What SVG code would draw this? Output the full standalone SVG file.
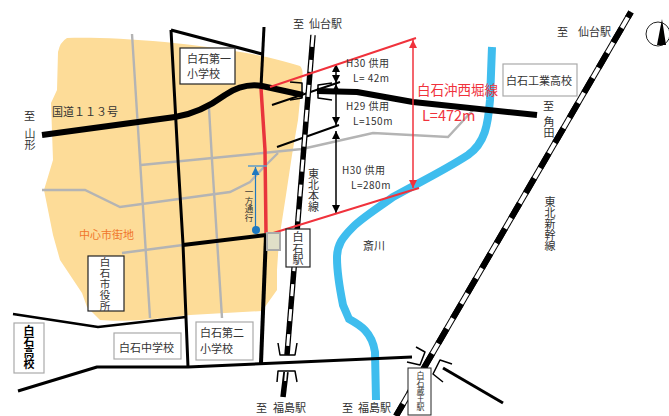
<svg xmlns="http://www.w3.org/2000/svg" width="669" height="416" viewBox="0 0 669 416">
<style>
text{font-family:"Noto Sans CJK JP","Noto Sans",sans-serif;font-size:11px;fill:#333}
.v{writing-mode:vertical-rl;text-orientation:upright}
.s{font-size:10px;letter-spacing:.5px}
.b{fill:#fff;stroke:#222;stroke-width:1.2}
.g{fill:#fff;stroke:#aaa;stroke-width:1.2}
.r{fill:none;stroke:#000;stroke-linecap:butt;stroke-linejoin:round}
.gr{fill:none;stroke:#b4b4b4;stroke-width:2.4}
</style>
<defs>
<marker id="ab" markerWidth="9" markerHeight="8" refX="8" refY="4" orient="auto-start-reverse" markerUnits="userSpaceOnUse"><path d="M0,0L8,4L0,8Z" fill="#000"/></marker>
<marker id="ar" markerWidth="9" markerHeight="8" refX="8" refY="4" orient="auto-start-reverse" markerUnits="userSpaceOnUse"><path d="M0,0L8,4L0,8Z" fill="#f0323c"/></marker>
<marker id="abl" markerWidth="9" markerHeight="8" refX="8" refY="4" orient="auto" markerUnits="userSpaceOnUse"><path d="M0,0L8,4L0,8Z" fill="#1e78c0"/></marker>
</defs>
<g id="area"><path d="M67,38C120,36 240,46 300,66Q304,70 302,80L298,120L292,155L286,195L279,240L277,270L277,290L262,311L190,315C150,320 120,322 100,320L87,307L82,293L60,260L53,235L44,190L53,160L51,103L57,90L58,52Q60,42 67,38Z" fill="#fddc98"/></g>
<g id="connectors">
<path class="gr" d="M132,34L140,160L150,318"/>
<path class="gr" d="M209,108L212,160L222,318"/>
<path class="gr" d="M141,165L263,153L302,149L373,133L448,137L473,110"/>
<path class="gr" d="M42,190L85,190L120,207L230,192L250,182L263,168L278,153"/>
<path class="gr" d="M122,253L183,245"/>
<path d="M492,47L490,100C488,125 485,143 468,155C445,170 420,182 393,197C375,210 362,218 353,227C342,238 337,245 337,258C337,275 340,290 343,305L349,319C360,325 372,332 375,352L376,400" fill="none" stroke="#3fbdee" stroke-width="8"/>
<path class="r" stroke-width="3" d="M171,30L178,160L183,244L188,367"/>
<path class="r" stroke-width="3" d="M171,30L262,54"/>
<path class="r" stroke-width="3" d="M264,27L261,87"/>
<path class="r" stroke-width="4" d="M266,235L261,363"/>
<path class="r" stroke-width="4" d="M183,245L266,235"/>
<path d="M261,88L265,150L266,233" fill="none" stroke="#e8343c" stroke-width="3.5"/>
<path class="r" stroke-width="6" d="M42,135L175,117C195,114 210,106 225,95C237,87 250,84 262,86L303,95"/>
<path class="r" stroke-width="6" d="M317,91L357,92L413,102L537,115"/>
<path class="r" stroke-width="2.5" d="M13,314L98,327L186,317"/>
<path class="r" stroke-width="3" d="M18,391L97,367L188,367L300,362L412,357"/>
<path class="r" stroke-width="3" d="M443,368L503,403"/>
<path class="r" stroke-width="1.5" d="M290,82L302,83V98L290,100M332,83L318,85V98L332,100"/>
<path class="r" stroke-width="2" d="M272,105L340,82M277,147L339,125"/>
<path class="r" stroke-width="1.5" d="M336,64V83" marker-start="url(#ab)" marker-end="url(#ab)"/>
<path class="r" stroke-width="1.5" d="M336,84V125" marker-start="url(#ab)" marker-end="url(#ab)"/>
<path class="r" stroke-width="1.5" d="M336,131V213" marker-start="url(#ab)" marker-end="url(#ab)"/>
<path d="M313,35L287,355" fill="none" stroke="#000" stroke-width="5.5"/>
<path d="M313,35L287,355" fill="none" stroke="#fff" stroke-width="3" stroke-dasharray="12 13"/>
<path d="M286,372L283,397" fill="none" stroke="#000" stroke-width="5.5"/>
<path d="M286,372L285.200,381" fill="none" stroke="#fff" stroke-width="2"/>
<path class="r" stroke-width="1.5" d="M278,343L280,355H295L297,343M277,382L278,371H295L297,382"/>
<path d="M631,12L396,416" fill="none" stroke="#000" stroke-width="6"/>
<path d="M631,12L396,416" fill="none" stroke="#fff" stroke-width="4"/>
<path d="M631,12L396,416" fill="none" stroke="#000" stroke-width="6" stroke-dasharray="17 12" stroke-dashoffset="-18.400"/>
<path class="r" stroke-width="1.5" d="M416,347L425,352L420,365L407,362M452,364L440,360L433,374L443,382"/>
<path d="M270,87L416,38M270,234L419,188" fill="none" stroke="#f0323c" stroke-width="2"/>
<path d="M413,40V188" fill="none" stroke="#f0323c" stroke-width="1.500" marker-start="url(#ar)" marker-end="url(#ar)"/>
<path d="M248,166H267" stroke="#5b9bc8" stroke-width="1.500"/>
<path d="M255.500,230V167" stroke="#1e78c0" stroke-width="1.200" marker-end="url(#abl)"/>
<circle cx="256" cy="230" r="4" fill="#1e78c0"/>
</g>
<g id="station-building"><rect x="267" y="233" width="13" height="17" fill="#e0dfc8" stroke="#aaa" stroke-width="2"/></g>
<g id="school1"><rect class="b" x="180" y="48" width="55" height="36"/><text><tspan x="187" y="63">白石第一</tspan><tspan x="187" y="78">小学校</tspan></text></g>
<g id="cityhall"><rect class="b" x="88" y="256" width="36" height="55"/><text class="v" x="105" y="257" style="font-size:10.500px;letter-spacing:.5px">白石市役所</text></g>
<g id="highschool"><rect class="g" x="14" y="323" width="30" height="50"/><text class="v" x="29" y="325.500" style="fill:#000;font-weight:700;letter-spacing:0">白石高校</text></g>
<g id="juniorhigh"><rect class="g" x="114" y="333" width="67" height="26"/><text x="119" y="352">白石中学校</text></g>
<g id="school2"><rect class="g" x="196" y="322" width="57" height="38"/><text><tspan x="200" y="337">白石第二</tspan><tspan x="200" y="353">小学校</tspan></text></g>
<g id="techhigh"><rect class="g" x="503" y="64" width="74" height="32"/><text x="506" y="85">白石工業高校</text></g>
<g id="shiroishi-station"><rect class="b" x="286" y="229" width="24" height="38"/><text class="v" x="298" y="231.500" style="letter-spacing:.6px">白石駅</text></g>
<g id="zao-station"><rect x="408" y="368" width="23" height="47" fill="#fff" stroke="#222"/><text class="v" x="420.500" y="371" style="font-size:8px">白石蔵王駅</text></g>
<g id="compass"><circle cx="658" cy="34" r="12" fill="#fff" stroke="#222"/><path d="M662,19L657,45H666Z" fill="#000"/></g>
<g id="labels">
<text x="293" y="28">至</text><text x="309" y="28">仙台駅</text>
<text x="256" y="412">至</text><text x="273" y="412">福島駅</text>
<text x="342" y="412">至</text><text x="358" y="412">福島駅</text>
<text x="557" y="36">至</text><text x="578" y="36">仙台駅</text>
<text x="543" y="110">至</text>
<text class="v" x="549" y="116">角田</text>
<text class="v" x="550" y="196">東北新幹線</text>
<text class="v" x="313.500" y="168">東北本線</text>
<text x="363" y="250">斎川</text>
<text x="79" y="239" style="fill:#f0752a">中心市街地</text>
<text class="v" x="249" y="188" style="font-size:8.500px">一方通行</text>
<text x="52" y="116">国道１１３号</text>
<text x="24" y="120">至</text>
<text class="v" x="30" y="128">山形</text>
<text x="417" y="95" style="fill:#f0323c;font-size:13.500px">白石沖西堀線</text>
<text x="422" y="121" style="fill:#f0323c;font-size:14.500px">L=472m</text>
<text class="s" x="346" y="67">H30 供用</text><text class="s" x="353" y="82">L= 42m</text>
<text class="s" x="346" y="110">H29 供用</text><text class="s" x="353" y="125">L=150m</text>
<text class="s" x="342" y="174">H30 供用</text><text class="s" x="351" y="189">L=280m</text>
</g>
</svg>
